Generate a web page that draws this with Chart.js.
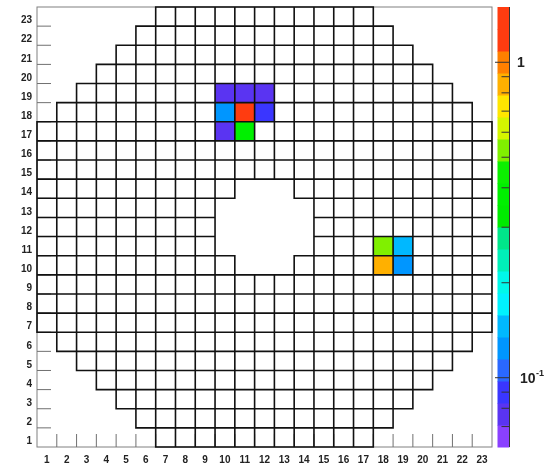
<!DOCTYPE html>
<html>
<head>
<meta charset="utf-8">
<script src="https://cdn.jsdelivr.net/npm/chart.js@4.4.1/dist/chart.umd.min.js"></script>
<style>
  html, body { margin: 0; padding: 0; background: #fff; }
  #wrap { width: 550px; height: 469px; }
</style>
</head>
<body>
<div id="wrap"><canvas id="c" width="550" height="469"></canvas></div>
<script>
// Calorimeter layout: for each row (1..23) the first and last populated column
const rowNumber   = [1, 2, 3, 4, 5, 6, 7, 8, 9, 10, 11, 12, 13, 14, 15, 16, 17, 18, 19, 20, 21, 22, 23];
const firstColumn = [7, 6, 5, 4, 3, 2, 1, 1, 1, 1, 1, 1, 1, 1, 1, 1, 1, 2, 3, 4, 5, 6, 7];
const lastColumn  = [17, 18, 19, 20, 21, 22, 23, 23, 23, 23, 23, 23, 23, 23, 23, 23, 23, 22, 21, 20, 19, 18, 17];

// Beam hole in the centre: rows and the column span missing in each
const holeRow   = [10, 11, 12, 13, 14];
const holeFirst = [11, 10, 10, 10, 11];
const holeLast  = [13, 14, 14, 14, 13];

// Cells with a deposit
const hitColumn = [10, 11, 12, 10, 11, 12, 10, 11, 18, 19, 18, 19];
const hitRow    = [19, 19, 19, 18, 18, 18, 17, 17, 11, 11, 10, 10];
const hitValue  = [0.076, 0.078, 0.080, 0.125, 1.49, 0.090, 0.072, 0.38, 0.53, 0.146, 0.86, 0.122];

// Axis tick labels
const xLabels = ['1','2','3','4','5','6','7','8','9','10','11','12','13','14','15','16','17','18','19','20','21','22','23'];
const yLabels = ['1','2','3','4','5','6','7','8','9','10','11','12','13','14','15','16','17','18','19','20','21','22','23'];

// Logarithmic colour scale
const zMin = 0.0603;
const zMax = 1.497;
const zMajorTicks  = [0.1, 1];
const zMajorBase   = ['10', '1'];
const zMajorExp    = ['-1', ''];
const zMinorTicks  = [0.07, 0.08, 0.09, 0.2, 0.3, 0.4, 0.5, 0.6, 0.7, 0.8, 0.9];
const levelColors = [
  '#8a40ff', '#5a34f2', '#3a36ff', '#2a68ff', '#0096ff',
  '#00b8ff', '#00f2ff', '#00f8ea', '#00f0b8', '#00e68a',
  '#00ec00', '#00f000', '#0cf000', '#80f000', '#d4f500',
  '#ffe600', '#ffb000', '#ff8000', '#ff3c10', '#ff3c10'
];

function levelColor(v) {
  const lo = Math.log10(zMin), hi = Math.log10(zMax);
  const n = levelColors.length;
  let k = Math.floor((Math.log10(v) - lo) / ((hi - lo) / n));
  k = Math.max(0, Math.min(n - 1, k));
  return levelColors[k];
}

function inHole(c, r) {
  const i = holeRow.indexOf(r);
  return i >= 0 && c >= holeFirst[i] && c <= holeLast[i];
}

function noOverflow(s) {
  s.paddingTop = 0; s.paddingBottom = 0; s.paddingLeft = 0; s.paddingRight = 0;
}

const hitPoints = hitColumn.map((c, i) => ({ x: c - 0.5, y: hitRow[i] - 0.5, v: hitValue[i] }));

const lego = {
  id: 'lego',
  afterDatasetsDraw(chart) {
    const { ctx, chartArea: a, scales } = chart;
    const sx = scales.x, sy = scales.y, sz = scales.z;
    ctx.save();

    // frame
    ctx.strokeStyle = '#808080';
    ctx.lineWidth = 1;
    ctx.strokeRect(a.left, a.top, a.right - a.left, a.bottom - a.top);

    // tick marks at bin edges
    ctx.strokeStyle = '#707070';
    ctx.beginPath();
    for (let b = 1; b < xLabels.length; b++) {
      const px = sx.getPixelForValue(b);
      ctx.moveTo(px, a.bottom); ctx.lineTo(px, a.bottom - 13);
    }
    for (let b = 1; b < yLabels.length; b++) {
      const py = sy.getPixelForValue(b);
      ctx.moveTo(a.left, py); ctx.lineTo(a.left + 14, py);
    }
    ctx.stroke();

    // filled cells
    const pts = chart.data.datasets[0].data;
    pts.forEach(p => {
      const x0 = sx.getPixelForValue(p.x - 0.5), x1 = sx.getPixelForValue(p.x + 0.5);
      const y0 = sy.getPixelForValue(p.y + 0.5), y1 = sy.getPixelForValue(p.y - 0.5);
      ctx.fillStyle = levelColor(p.v);
      ctx.fillRect(x0, y0, x1 - x0, y1 - y0);
    });

    // cell outlines
    ctx.strokeStyle = '#111';
    ctx.lineWidth = 1.6;
    ctx.beginPath();
    rowNumber.forEach((r, i) => {
      for (let c = firstColumn[i]; c <= lastColumn[i]; c++) {
        if (inHole(c, r)) continue;
        const x0 = sx.getPixelForValue(c - 1), x1 = sx.getPixelForValue(c);
        const y0 = sy.getPixelForValue(r), y1 = sy.getPixelForValue(r - 1);
        ctx.rect(x0, y0, x1 - x0, y1 - y0);
      }
    });
    ctx.stroke();

    // colour palette
    const px0 = a.right + 5.5, px1 = a.right + 17.5;
    const lo = Math.log10(zMin), hi = Math.log10(zMax);
    const n = levelColors.length;
    for (let k = 0; k < n; k++) {
      const yb = sz.getPixelForValue(Math.pow(10, lo + k * (hi - lo) / n));
      const yt = sz.getPixelForValue(Math.pow(10, lo + (k + 1) * (hi - lo) / n));
      ctx.fillStyle = levelColors[k];
      ctx.fillRect(px0, yt, px1 - px0, yb - yt + 0.5);
    }
    ctx.strokeStyle = '#333';
    ctx.lineWidth = 1;
    ctx.beginPath();
    ctx.moveTo(px1, sz.getPixelForValue(zMax));
    ctx.lineTo(px1, sz.getPixelForValue(zMin));
    zMajorTicks.forEach(v => {
      const py = sz.getPixelForValue(v);
      ctx.moveTo(px1, py); ctx.lineTo(px0 - 2.5, py);
    });
    zMinorTicks.forEach(v => {
      const py = sz.getPixelForValue(v);
      ctx.moveTo(px1, py); ctx.lineTo(px1 - 8, py);
    });
    ctx.stroke();

    // palette labels (base with superscript exponent)
    ctx.fillStyle = '#222';
    ctx.textBaseline = 'middle';
    ctx.textAlign = 'left';
    zMajorTicks.forEach((v, i) => {
      const py = sz.getPixelForValue(v);
      const lx = i === 0 ? a.right + 28 : a.right + 25;
      ctx.font = "bold 14px 'Liberation Sans', Arial, sans-serif";
      ctx.fillText(zMajorBase[i], lx, py + 1);
      if (zMajorExp[i]) {
        const w = ctx.measureText(zMajorBase[i]).width;
        ctx.font = "bold 9px 'Liberation Sans', Arial, sans-serif";
        ctx.fillText(zMajorExp[i], lx + w + 0.5, py - 4);
      }
    });
    ctx.restore();
  }
};

Chart.defaults.font.family = "'Liberation Sans', Arial, sans-serif";
Chart.defaults.color = '#222';

new Chart(document.getElementById('c'), {
  type: 'scatter',
  data: {
    datasets: [{ data: hitPoints, pointRadius: 0, pointHoverRadius: 0, xAxisID: 'x', yAxisID: 'y' }]
  },
  options: {
    responsive: false,
    animation: false,
    events: [],
    layout: { padding: { top: 7, left: 0, right: 0, bottom: 0 } },
    plugins: { legend: { display: false }, tooltip: { enabled: false } },
    scales: {
      x: {
        type: 'linear', position: 'bottom', min: 0, max: xLabels.length,
        grid: { display: false, drawTicks: false },
        border: { display: false },
        afterBuildTicks(s) { s.ticks = xLabels.map((_, i) => ({ value: i + 0.5 })); },
        afterFit(s) { s.height = 22; noOverflow(s); },
        ticks: {
          autoSkip: false, maxRotation: 0, padding: 7,
          font: { size: 10, weight: 'bold' },
          callback: (v, i) => xLabels[i]
        }
      },
      y: {
        type: 'linear', position: 'left', min: 0, max: yLabels.length,
        grid: { display: false, drawTicks: false },
        border: { display: false },
        afterBuildTicks(s) { s.ticks = yLabels.map((_, i) => ({ value: i + 0.5 })); },
        afterFit(s) { s.width = 37; noOverflow(s); },
        ticks: {
          autoSkip: false, padding: 5, labelOffset: 4,
          font: { size: 10, weight: 'bold' },
          callback: (v, i) => yLabels[i]
        }
      },
      z: {
        type: 'logarithmic', position: 'right', min: zMin, max: zMax,
        grid: { display: false, drawTicks: false },
        border: { display: false },
        afterBuildTicks(s) { s.ticks = zMajorTicks.map(v => ({ value: v })); },
        afterFit(s) { s.width = 58; noOverflow(s); },
        ticks: { display: false }
      }
    }
  },
  plugins: [lego]
});
</script>
</body>
</html>
